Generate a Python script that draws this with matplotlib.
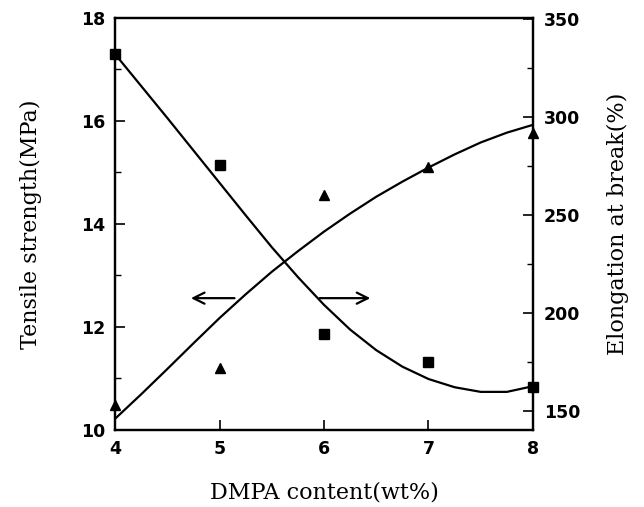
import matplotlib
matplotlib.use('Agg')
import matplotlib.pyplot as plt
from matplotlib.ticker import MultipleLocator

# measured points
dmpa = [4, 5, 6, 7, 8]
tensile = [17.3, 15.15, 11.86, 11.32, 10.83]
elongation = [153, 172, 260, 274.5, 292]

# trend lines
curve_x = [4.0, 4.25, 4.5, 4.75, 5.0, 5.25, 5.5, 5.75, 6.0,
           6.25, 6.5, 6.75, 7.0, 7.25, 7.5, 7.75, 8.0]
tensile_curve = [17.30, 16.68, 16.06, 15.43, 14.80, 14.17, 13.55, 12.97, 12.43,
                 11.95, 11.55, 11.23, 10.99, 10.83, 10.74, 10.74, 10.85]
elong_curve = [146, 158.5, 171.4, 184.5, 197.4, 209.5, 221, 231.5, 241.5,
               250.7, 259.3, 267, 274.2, 280.9, 287, 292, 296]

xticks = [4, 5, 6, 7, 8]
left_ticks = [10, 12, 14, 16, 18]
right_ticks = [150, 200, 250, 300, 350]

tick_font = dict(family='DejaVu Sans', weight='bold', size=12.5)
label_font = dict(family='DejaVu Serif', size=16)

fig = plt.figure(figsize=(6.44, 5.07), dpi=100)
ax1 = fig.add_axes([0.1786, 0.1519, 0.649, 0.8126])
ax2 = ax1.twinx()

ax1.plot(curve_x, tensile_curve, color='black', lw=1.6, zorder=3)
ax1.plot(dmpa, tensile, 's', color='black', ms=7, clip_on=False, zorder=4)
ax2.plot(curve_x, elong_curve, color='black', lw=1.6, zorder=3)
ax2.plot(dmpa, elongation, '^', color='black', ms=7.5, clip_on=False, zorder=4)

ax1.set_xlim(4, 8)
ax1.set_ylim(10, 18)
ax2.set_ylim(140.3, 350.5)

ax1.set_xticks(xticks)
ax1.set_yticks(left_ticks)
ax1.yaxis.set_minor_locator(MultipleLocator(1))
ax2.set_yticks(right_ticks)
ax2.yaxis.set_minor_locator(MultipleLocator(25))

ax1.tick_params(axis='both', which='major', direction='in', length=7, width=1.2,
                pad=7, top=False, right=False)
ax1.tick_params(axis='y', which='minor', direction='in', length=4, width=1.0)
ax2.tick_params(axis='y', which='major', direction='in', length=7, width=1.2, pad=8)
ax2.tick_params(axis='y', which='minor', direction='in', length=4, width=1.0)

for lab in ax1.get_xticklabels() + ax1.get_yticklabels() + ax2.get_yticklabels():
    lab.set_fontproperties(matplotlib.font_manager.FontProperties(**tick_font))

for ax in (ax1, ax2):
    for sp in ax.spines.values():
        sp.set_linewidth(1.6)

ax1.set_xlabel('DMPA content(wt%)', labelpad=17, **label_font)
ax1.set_ylabel('Tensile strength(MPa)', labelpad=28, **label_font)
ax2.set_ylabel('Elongation at break(%)', labelpad=19, **label_font)

arrow = dict(arrowstyle='->', color='black', lw=1.6, mutation_scale=20)
ax1.annotate('', xy=(4.70, 12.56), xytext=(5.17, 12.56), arrowprops=arrow)
ax1.annotate('', xy=(6.47, 12.56), xytext=(5.93, 12.56), arrowprops=arrow)

fig.savefig('out.png', dpi=100)
